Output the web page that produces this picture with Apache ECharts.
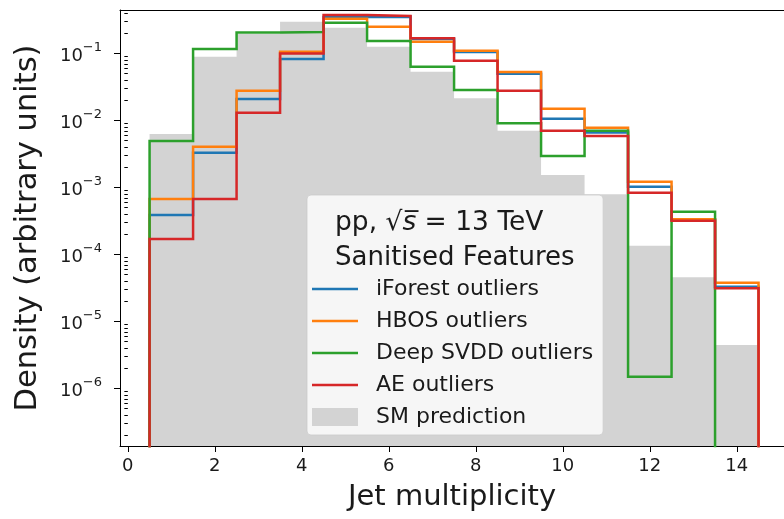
<!DOCTYPE html>
<html>
<head>
<meta charset="utf-8">
<script src="https://cdn.jsdelivr.net/npm/echarts@6/dist/echarts.min.js"></script>
<style>
  html, body { margin: 0; padding: 0; background: #fff; }
  #chart { width: 784px; height: 519px; }
</style>
</head>
<body>
<div id="chart"></div>
<script>
// Jet multiplicity bins (centres 1..14, unit width)
const binEdges = [0.5, 1.5, 2.5, 3.5, 4.5, 5.5, 6.5, 7.5, 8.5, 9.5, 10.5, 11.5, 12.5, 13.5, 14.5];

// Normalised densities per bin
const smPrediction = [6.3e-3, 0.0896, 0.195, 0.298, 0.243, 0.126, 0.0535, 0.0214, 7.05e-3, 1.54e-3, 7.9e-4, 1.35e-4, 4.57e-5, 4.46e-6];
const iForest      = [3.89e-4, 3.3e-3, 0.0209, 0.0828, 0.35, 0.355, 0.165, 0.105, 0.05, 0.0106, 6.6e-3, 1.03e-3, 3.3e-4, 3.3e-5];
const hbos         = [6.75e-4, 4.07e-3, 0.0279, 0.106, 0.33, 0.251, 0.15, 0.11, 0.053, 0.015, 7.8e-3, 1.22e-3, 3.35e-4, 3.8e-5];
const deepSVDD     = [4.94e-3, 0.117, 0.205, 0.21, 0.288, 0.154, 0.0636, 0.0285, 9.08e-3, 2.95e-3, 7.05e-3, 1.5e-6, 4.35e-4, 0];
const aeOutliers   = [1.7e-4, 6.75e-4, 0.0131, 0.1, 0.375, 0.363, 0.169, 0.078, 0.0279, 7.05e-3, 5.87e-3, 8.36e-4, 3.2e-4, 3.13e-5];

// Axis ticks
const xTicks = [0, 2, 4, 6, 8, 10, 12, 14];
const yMajorTicks = [1e-6, 1e-5, 1e-4, 1e-3, 1e-2, 1e-1];

const X_MIN = -0.18;
const X_MAX = 15.085;
const Y_MIN = 1.387e-7;
const Y_MAX = 0.4458;
const BELOW_AXIS = 1e-10;  // empty bins fall off the log axis

const FONT = '"DejaVu Sans", sans-serif';
const TEXT = '#1a1a1a';
const LINE_ICON = 'path://M0,0H100V5.4H0Z';

// minor log ticks 2..9 x 10^k inside the axis range
const yMinorTicks = [];
for (let k = -8; k <= 0; k++) {
  for (let m = 2; m <= 9; m++) {
    const v = m * Math.pow(10, k);
    if (v > Y_MIN && v < Y_MAX) yMinorTicks.push(v);
  }
}

// outline of a step histogram: up at the first edge, across each bin, down at the last edge
function stepOutline(values, floor) {
  const pts = [[binEdges[0], floor]];
  values.forEach((v, i) => {
    const y = v > 0 ? v : floor;
    pts.push([binEdges[i], y]);
    pts.push([binEdges[i + 1], y]);
  });
  pts.push([binEdges[binEdges.length - 1], floor]);
  return pts;
}

function stepSeries(name, values, color) {
  return {
    name: name,
    type: 'line',
    data: stepOutline(values, BELOW_AXIS),
    symbol: 'none',
    showSymbol: false,
    clip: true,
    color: color,
    lineStyle: { width: 2.5, color: color, join: 'miter' },
    animation: false
  };
}

function expLabel(v) {
  const e = Math.round(Math.log10(v));
  return '{b|10}{s|' + (e < 0 ? '\u2212' : '') + Math.abs(e) + '}';
}

const chart = echarts.init(document.getElementById('chart'), null, { renderer: 'canvas' });

chart.setOption({
  animation: false,
  backgroundColor: '#ffffff',
  grid: { left: 120, right: 0, top: 10, bottom: 73 },
  xAxis: [{
    type: 'value',
    min: X_MIN, max: X_MAX,
    splitLine: { show: false },
    axisLine: { show: true, onZero: false, lineStyle: { color: '#000', width: 1 } },
    axisTick: { show: true, customValues: xTicks, length: 6, lineStyle: { color: '#000' } },
    axisLabel: { customValues: xTicks, margin: 11, fontFamily: FONT, fontSize: 18, color: TEXT },
    name: 'Jet multiplicity',
    nameLocation: 'middle',
    nameGap: 37,
    nameTextStyle: { fontFamily: FONT, fontSize: 29, color: TEXT }
  }, {
    // top spine
    type: 'value',
    position: 'top',
    min: X_MIN, max: X_MAX,
    splitLine: { show: false },
    axisLine: { show: true, onZero: false, lineStyle: { color: '#000', width: 1 } },
    axisTick: { show: false },
    axisLabel: { show: false }
  }],
  yAxis: [{
    type: 'log',
    logBase: 10,
    min: Y_MIN, max: Y_MAX,
    splitLine: { show: false },
    axisLine: { show: true, onZero: false, lineStyle: { color: '#000', width: 1 } },
    axisTick: { show: true, customValues: yMajorTicks, length: 6, lineStyle: { color: '#000' } },
    axisLabel: {
      customValues: yMajorTicks,
      margin: 18,
      formatter: expLabel,
      rich: {
        b: { fontFamily: FONT, fontSize: 18, color: TEXT, lineHeight: 24, verticalAlign: 'bottom' },
        s: { fontFamily: FONT, fontSize: 13, color: TEXT, lineHeight: 14, verticalAlign: 'top' }
      }
    },
    name: 'Density (arbitrary units)',
    nameLocation: 'middle',
    nameGap: 76,
    nameTextStyle: { fontFamily: FONT, fontSize: 30.5, color: TEXT }
  }, {
    // minor log ticks
    type: 'log',
    logBase: 10,
    min: Y_MIN, max: Y_MAX,
    position: 'left',
    splitLine: { show: false },
    axisLine: { show: false },
    axisTick: { show: true, customValues: yMinorTicks, length: 3.5, lineStyle: { color: '#000' } },
    axisLabel: { show: false }
  }],
  legend: {
    orient: 'vertical',
    left: 307, top: 195,
    padding: [83, 10, 7, 5],
    itemWidth: 46, itemHeight: 18, itemGap: 10,
    symbolKeepAspect: true,
    backgroundColor: 'rgba(255,255,255,0.8)',
    borderColor: 'rgba(204,204,204,0.8)',
    borderWidth: 1, borderRadius: 4,
    textStyle: { fontFamily: FONT, fontSize: 22, color: TEXT, lineHeight: 22, padding: [0, 0, 0, 13] },
    data: [
      { name: 'iForest outliers', icon: LINE_ICON },
      { name: 'HBOS outliers', icon: LINE_ICON },
      { name: 'Deep SVDD outliers', icon: LINE_ICON },
      { name: 'AE outliers', icon: LINE_ICON },
      { name: 'SM prediction', icon: 'rect' }
    ],
    selectedMode: false
  },
  graphic: [{
    type: 'text', left: 335, top: 210, z: 100,
    style: {
      text: '{a|pp, \u221A}{i|s\u0305}{a| = 13 TeV}',
      rich: {
        a: { fontFamily: FONT, fontSize: 26.5, fill: TEXT },
        i: { fontFamily: FONT, fontSize: 26.5, fontStyle: 'italic', fill: TEXT }
      }
    }
  }, {
    type: 'text', left: 335, top: 245, z: 100,
    style: { text: 'Sanitised Features', fontFamily: FONT, fontSize: 26, fill: TEXT }
  }],
  series: [
    {
      name: 'SM prediction',
      type: 'line',
      data: stepOutline(smPrediction, Y_MIN),
      symbol: 'none', showSymbol: false, clip: true,
      color: '#d3d3d3',
      lineStyle: { width: 0, color: '#d3d3d3' },
      areaStyle: { color: '#d3d3d3', opacity: 1, origin: 'start' },
      z: 1
    },
    stepSeries('iForest outliers', iForest, '#1f77b4'),
    stepSeries('HBOS outliers', hbos, '#ff7f0e'),
    stepSeries('Deep SVDD outliers', deepSVDD, '#2ca02c'),
    stepSeries('AE outliers', aeOutliers, '#d62728')
  ]
});
</script>
</body>
</html>
